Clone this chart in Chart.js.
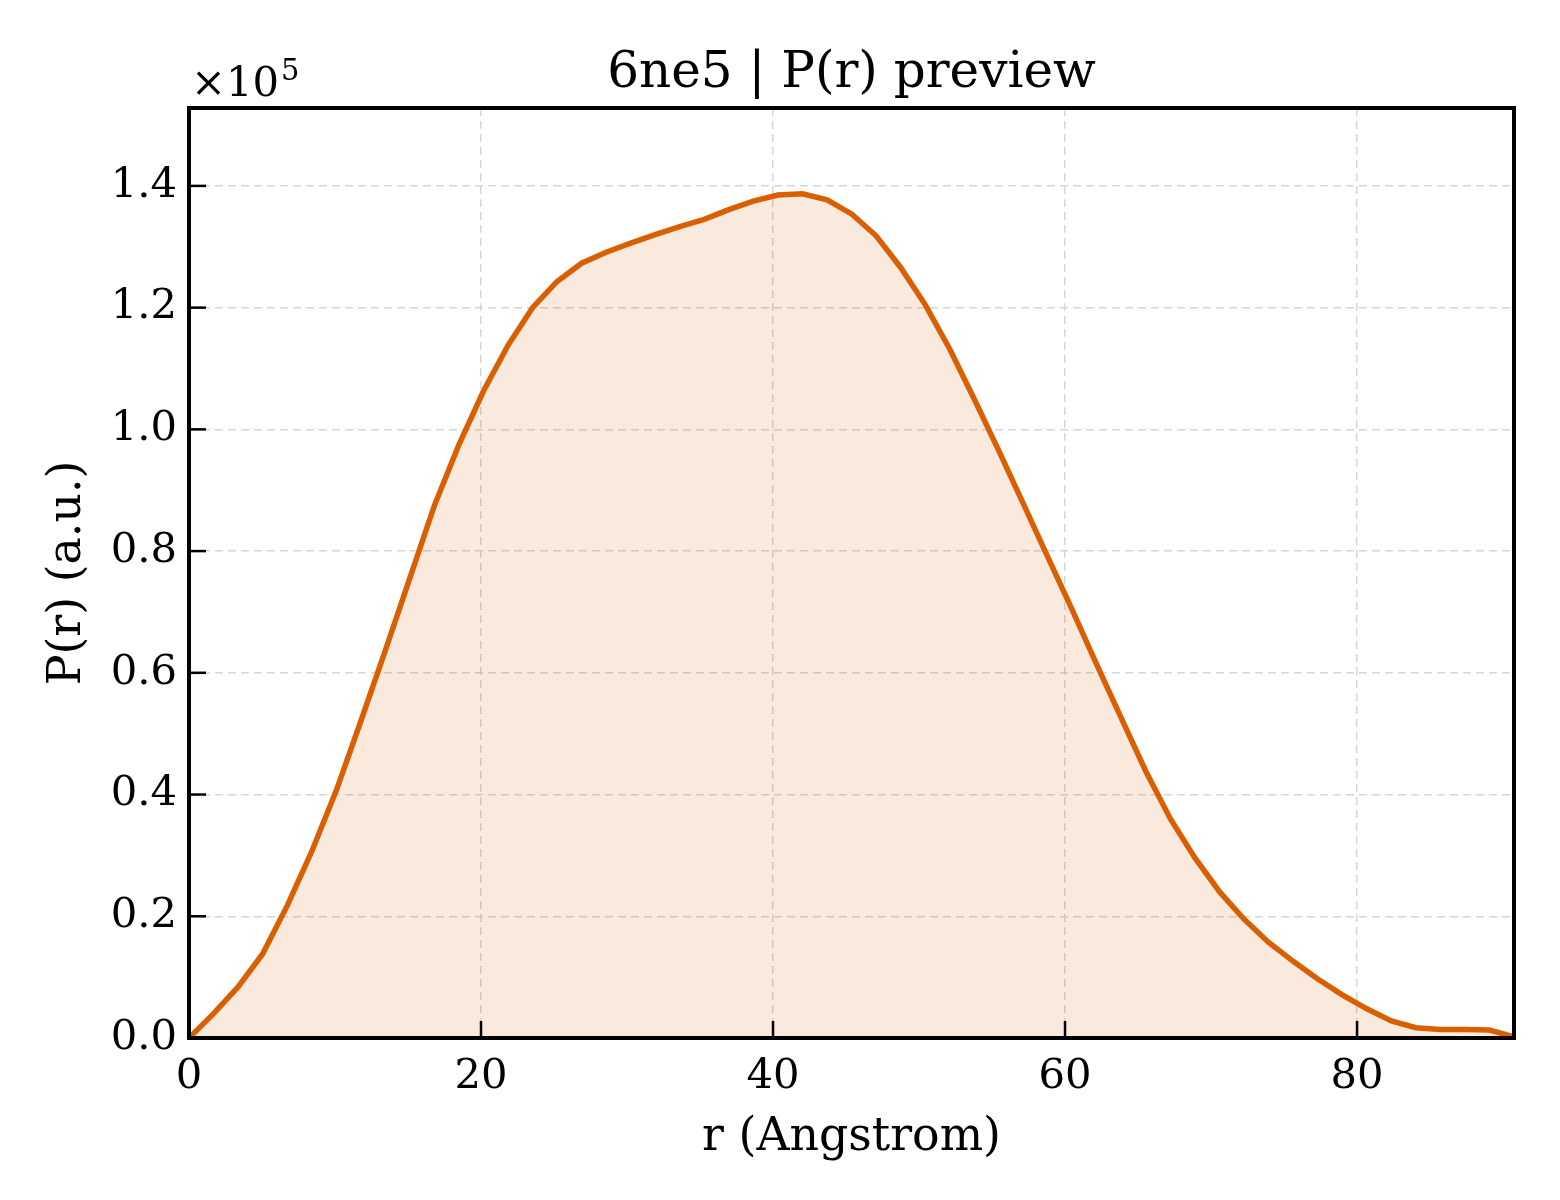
<!DOCTYPE html>
<html>
<head>
<meta charset="utf-8">
<script src="https://cdn.jsdelivr.net/npm/chart.js@4/dist/chart.umd.min.js"></script>
<style>
  body { margin: 0; background: #fff; }
  #wrap { width: 1560px; height: 1200px; }
</style>
</head>
<body>
<div id="wrap"><canvas id="pr-chart" width="1560" height="1200"></canvas></div>
<script>
var r_vals = [0, 1.68, 3.36, 5.04, 6.72, 8.40, 10.08, 11.76, 13.45, 15.13,
  16.81, 18.49, 20.17, 21.85, 23.53, 25.21, 26.89, 28.57, 30.25, 31.93,
  33.61, 35.29, 36.97, 38.65, 40.33, 42.02, 43.70, 45.38, 47.06, 48.74,
  50.42, 52.10, 53.78, 55.46, 57.14, 58.82, 60.50, 62.18, 63.86, 65.54,
  67.22, 68.90, 70.59, 72.27, 73.95, 75.63, 77.31, 78.99, 80.67, 82.35,
  84.03, 85.71, 87.39, 89.07, 90.75];

var pr_vals = [0, 4000, 8400, 13800, 21700, 30600, 40600, 52000, 63700, 75600,
  87500, 97500, 106300, 113800, 120000, 124300, 127300, 129100, 130600, 132000,
  133300, 134500, 136100, 137500, 138500, 138700, 137700, 135400, 131800, 126600,
  120500, 113200, 105000, 96500, 87800, 79000, 70300, 61300, 52500, 43800,
  36000, 29600, 24000, 19500, 15700, 12600, 9700, 7100, 4800, 2800,
  1700, 1400, 1400, 1300, 200];

var x_ticks = [0, 20, 40, 60, 80];
var y_ticks = [0, 20000, 40000, 60000, 80000, 100000, 120000, 140000];

var r_max = 90.75;
var pr_max = 152800;

var serif = "'DejaVu Serif', serif";
var lineColor = '#d95f02';

var points = [];
for (var i = 0; i < r_vals.length; i++) {
  points.push({x: r_vals[i], y: pr_vals[i]});
}

// box around the axes, inward ticks and the x10^5 offset label
var axesDecor = {
  id: 'axesDecor',
  afterDraw: function(chart) {
    var ctx = chart.ctx;
    var a = chart.chartArea;
    var xs = chart.scales.x, ys = chart.scales.y;
    ctx.save();
    ctx.setLineDash([]);
    ctx.fillStyle = '#000';
    x_ticks.forEach(function(t) {
      var px = xs.getPixelForValue(t);
      ctx.fillRect(px - 1.25, a.bottom - 17, 2.5, 17);
    });
    y_ticks.forEach(function(t) {
      var py = ys.getPixelForValue(t);
      ctx.fillRect(a.left, py - 1.25, 17, 2.5);
    });
    ctx.strokeStyle = '#000';
    ctx.lineWidth = 4;
    ctx.strokeRect(a.left, a.top, a.right - a.left, a.bottom - a.top);

    ctx.textBaseline = 'alphabetic';
    ctx.textAlign = 'left';
    ctx.font = '41.7px ' + serif;
    var base = a.top - 12;
    ctx.fillText('\u00d710', a.left + 2, base);
    var w = ctx.measureText('\u00d710').width;
    ctx.font = '29px ' + serif;
    ctx.fillText('5', a.left + 2 + w + 2, base - 16);
    ctx.restore();
  }
};

new Chart(document.getElementById('pr-chart'), {
  type: 'scatter',
  data: {
    datasets: [{
      label: 'P(r)',
      data: points,
      showLine: true,
      borderColor: lineColor,
      borderWidth: 5.5,
      backgroundColor: 'rgba(217,95,2,0.13)',
      fill: 'origin',
      pointRadius: 0,
      tension: 0
    }]
  },
  options: {
    responsive: false,
    animation: false,
    devicePixelRatio: 1,
    layout: { padding: { left: 0, right: 46, top: 0, bottom: 20 } },
    plugins: {
      legend: { display: false },
      tooltip: { enabled: false },
      title: {
        display: true,
        text: '6ne5 | P(r) preview',
        fullSize: false,
        color: '#000',
        font: { family: serif, size: 50, weight: 'normal' },
        padding: { top: 44, bottom: 4 }
      }
    },
    scales: {
      x: {
        type: 'linear',
        min: 0,
        max: r_max,
        afterFit: function(s) { s.height = 142; },
        afterBuildTicks: function(s) { s.ticks = x_ticks.map(function(v) { return {value: v}; }); },
        ticks: {
          color: '#000',
          padding: 14,
          maxRotation: 0,
          font: { family: serif, size: 41.7 },
          callback: function(v) { return v.toFixed(0); }
        },
        grid: { color: '#d6d6d6', lineWidth: 1.5, drawTicks: false },
        border: { display: false, dash: [8, 5] },
        title: {
          display: true,
          text: 'r (Angstrom)',
          color: '#000',
          font: { family: serif, size: 45.8 },
          padding: { top: 0, bottom: 14 }
        }
      },
      y: {
        min: 0,
        max: pr_max,
        afterFit: function(s) { s.width = 189; },
        afterBuildTicks: function(s) { s.ticks = y_ticks.map(function(v) { return {value: v}; }); },
        ticks: {
          color: '#000',
          padding: 12,
          font: { family: serif, size: 41.7 },
          callback: function(v) { return (v / 1e5).toFixed(1); }
        },
        grid: { color: '#d6d6d6', lineWidth: 1.5, drawTicks: false },
        border: { display: false, dash: [8, 5] },
        title: {
          display: true,
          text: 'P(r) (a.u.)',
          color: '#000',
          font: { family: serif, size: 45.8 },
          padding: { top: 41, bottom: 0 }
        }
      }
    }
  },
  plugins: [axesDecor]
});
</script>
</body>
</html>
